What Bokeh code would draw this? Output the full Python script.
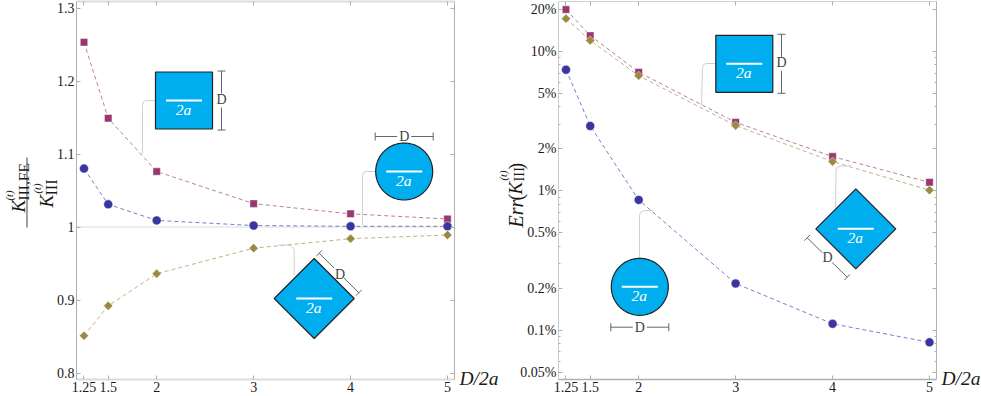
from bokeh.embed import file_html
from bokeh.resources import INLINE
from bokeh.plotting import figure
from bokeh.layouts import row
from bokeh.models import Range1d, FixedTicker, LinearAxis, LogAxis, Label
import numpy as np

x_vals = [1.25, 1.5, 2, 3, 4, 5]
x_labels = {1.25: "1.25", 1.5: "1.5", 2: "2", 3: "3", 4: "4", 5: "5"}

ratio_square = [1.253, 1.149, 1.076, 1.032, 1.018, 1.011]
ratio_circle = [1.080, 1.031, 1.009, 1.002, 1.001, 1.001]
ratio_diamond = [0.851, 0.892, 0.936, 0.971, 0.984, 0.989]

err_square = [20.0, 13.0, 7.1, 3.1, 1.76, 1.15]
err_circle = [7.4, 2.92, 0.86, 0.216, 0.111, 0.0817]
err_diamond = [17.2, 12.0, 6.7, 2.94, 1.62, 1.01]

ratio_ticks = [0.8, 0.9, 1.0, 1.1, 1.2, 1.3]
ratio_labels = {0.8: "0.8", 0.9: "0.9", 1.0: "1", 1.1: "1.1", 1.2: "1.2", 1.3: "1.3"}
err_ticks = [0.05, 0.1, 0.2, 0.5, 1, 2, 5, 10, 20]
err_labels = {0.05: "0.05%", 0.1: "0.1%", 0.2: "0.2%", 0.5: "0.5%", 1: "1%", 2: "2%", 5: "5%", 10: "10%", 20: "20%"}
err_minor = [0.06, 0.07, 0.08, 0.09, 0.3, 0.4, 0.6, 0.7, 0.8, 0.9, 3, 4, 6, 7, 8, 9]

MAG, BLU, OLI = "#98386f", "#3b369f", "#9b8a3f"
CYAN = "#00aeef"
SERIF = "'Liberation Serif', 'Times New Roman', serif"
AX = "#b0b0b0"
W, H = 981, 396
FT, FB = 1, 379


def panel(w, fl, fr, ylo, yhi, log):
    p = figure(frame_width=fr - fl, frame_height=FB - FT, output_backend="svg", toolbar_location=None,
               x_range=Range1d(1.25 - 7.5 / 97, 5 + 7 / 97),
               y_range=Range1d(ylo, yhi), y_axis_type="log" if log else "linear",
               x_axis_location=None, y_axis_location=None,
               min_border_left=fl, min_border_right=w - fr, min_border_top=FT, min_border_bottom=H - FB,
               outline_line_color=None, background_fill_color="white", border_fill_color="white")
    p.grid.visible = False
    return p


def style_axis(a, labels=True):
    a.axis_line_color = AX
    a.axis_line_width = 1
    a.major_tick_line_color = AX
    a.minor_tick_line_color = AX
    a.major_tick_in = 4
    a.major_tick_out = 0
    a.minor_tick_in = 2
    a.minor_tick_out = 0
    if labels:
        a.major_label_text_font = SERIF
        a.major_label_text_font_size = "14px"
        a.major_label_text_color = "#1a1a1a"
        a.major_label_standoff = 2
    else:
        a.major_label_text_font_size = "0px"
        a.major_label_text_color = None
        a.major_label_standoff = 0


def axes(p, yticks, ylabels, yminor, log):
    Y = LogAxis if log else LinearAxis
    for side in ("below", "above"):
        a = LinearAxis(ticker=FixedTicker(ticks=x_vals))
        a.major_label_overrides = {k: v for k, v in x_labels.items()}
        style_axis(a, side == "below")
        if not log:
            a.axis_line_color = "#dcdcdc"
            a.axis_line_width = 2
        elif side == "below":
            a.axis_line_width = 1.5
        else:
            a.axis_line_color = "#d0d0d0"
        p.add_layout(a, side)
    for side in ("left", "right"):
        a = Y(ticker=FixedTicker(ticks=yticks, minor_ticks=yminor))
        a.major_label_overrides = {k: v for k, v in ylabels.items()}
        style_axis(a, side == "left")
        if log and side == "left":
            a.axis_line_color = "#cccccc"
        p.add_layout(a, side)


def series(p, ys, color, marker):
    p.line(x_vals, ys, line_color=color, line_alpha=0.65, line_width=1, line_dash="4 3")
    kw = dict(line_color="white", line_alpha=0.6, line_width=0.8, fill_color=color)
    if marker == "circle":
        p.scatter(x_vals, ys, marker="circle", size=9, **kw)
    elif marker == "square":
        p.scatter(x_vals, ys, marker="square", size=7.5, **kw)
    else:
        p.scatter(x_vals, ys, marker="square", size=6.5, angle=np.pi / 4, **kw)


# overlay: a transparent figure over the whole page, in page pixels, for the sketches and outside labels
ov = figure(width=W, height=H, output_backend="svg", toolbar_location=None,
            x_range=Range1d(0, W), y_range=Range1d(H, 0), x_axis_location=None, y_axis_location=None,
            min_border=0, outline_line_color=None, background_fill_color=None, border_fill_color=None,
            styles={"position": "absolute", "left": "0px", "top": "0px", "z-index": "5"})
ov.grid.visible = False


def txt(x, y, s, size, italic=False, color="#1a1a1a", angle=0.0, align="center", baseline="middle"):
    ov.add_layout(Label(x=x, y=y, text=s, text_font=SERIF, text_font_size=f"{size}px", text_color=color,
                        text_font_style="italic" if italic else "normal", angle=angle,
                        text_align=align, text_baseline=baseline))


def crack(cx, cy):
    ov.line([cx - 18, cx + 18], [cy, cy], line_color="white", line_width=2)
    txt(cx - 0.5, cy + 9, "2a", 15.5, italic=True, color="white")


def connector(xs, ys):
    ov.line(xs, ys, line_color="#cfcfcf", line_width=1)


def dim(x0, y0, x1, y1, lx, ly):
    dx, dy = x1 - x0, y1 - y0
    L = float(np.hypot(dx, dy))
    ux, uy = dx / L, dy / L
    nx, ny = -uy * 4, ux * 4
    mid = L / 2
    g = 7
    kw = dict(line_color="#666666", line_width=1)
    ov.line([x0, x0 + ux * (mid - g)], [y0, y0 + uy * (mid - g)], **kw)
    ov.line([x0 + ux * (mid + g), x1], [y0 + uy * (mid + g), y1], **kw)
    for x, y in ((x0, y0), (x1, y1)):
        ov.line([x - nx, x + nx], [y - ny, y + ny], **kw)
    txt(lx, ly, "D", 14, color="#444444")


def square_inset(cx, cy, dx):
    h = 28.5
    ov.patch([cx - h, cx + h, cx + h, cx - h], [cy - h, cy - h, cy + h, cy + h], fill_color=CYAN,
             line_color="#222222", line_width=1.2)
    crack(cx, cy)
    dim(dx, cy - h - 1, dx, cy + h + 1, dx, cy - 1)


def circle_inset(cx, cy, dy):
    t = np.linspace(0, 2 * np.pi, 97)
    r = 28.5
    ov.patch(cx + r * np.cos(t), cy + r * np.sin(t), fill_color=CYAN, line_color="#222222", line_width=1.2)
    crack(cx, cy)
    dim(cx - 29, dy, cx + 29, dy, cx, dy)


def diamond_inset(cx, cy, d):
    h = 40
    ov.patch([cx - h, cx, cx + h, cx], [cy, cy - h, cy, cy + h], fill_color=CYAN, line_color="#222222",
             line_width=1.2)
    crack(cx, cy)
    dim(*d)


W1, W2 = 490, 491
L0, R0 = 76, 454
y_per = 730.0
p1 = panel(W1, L0, R0, 1.0 - (FB - 226.5) / y_per, 1.0 + (226.5 - FT) / y_per, False)
axes(p1, ratio_ticks, ratio_labels, [], False)
p1.line([x_vals[0] - 1, x_vals[-1] + 1], [1, 1], line_color="#dcdcdc", line_width=1)
series(p1, ratio_square, MAG, "square")
series(p1, ratio_circle, BLU, "circle")
series(p1, ratio_diamond, OLI, "diamond")

connector([155, 146, 143, 142, 142], [100, 100, 101, 104, 153])
connector([375, 366, 363, 362, 362], [171, 171, 172, 175, 225])
connector([278, 287, 291, 293.7, 293.7], [244.5, 244.5, 245.5, 249, 275])
square_inset(183.5, 100, 221)
circle_inset(403.7, 171, 136)
diamond_inset(313.7, 298, (318.7, 252.7, 358.3, 292.3, 339.5, 273.5))
txt(459, 378, "D/2a", 19.5, italic=True, align="left")

ROT = np.pi / 2
ov.line([26.5, 26.5], [157, 227], line_color="#777777", line_width=1.4)
BL = dict(angle=ROT, align="left", baseline="alphabetic")
txt(18, 212, "K", 19, italic=True, **BL)
txt(23, 200, "III,FE", 15.5, **BL)
txt(9, 200, "(t)", 10.5, italic=True, **BL)
txt(46, 207, "K", 19, italic=True, **BL)
txt(51, 195, "III", 16, **BL)
txt(37, 193, "(t)", 10.5, italic=True, **BL)

L1, R1 = 68, 446
dec = 139.3
yhi = 10 ** (1 + (51 - FT) / dec)
ylo = 10 ** (1 - (FB - 51) / dec)
p2 = panel(W2, L1, R1, ylo, yhi, True)
axes(p2, err_ticks, err_labels, err_minor, True)
series(p2, err_square, MAG, "square")
series(p2, err_diamond, OLI, "diamond")
series(p2, err_circle, BLU, "circle")

connector([715.3, 706, 703, 702, 701], [63, 63, 64, 67, 105])
connector([639, 639, 640, 644, 653], [258, 215, 212, 210, 210])
connector([835, 835.5, 836.5, 840, 851], [207, 170, 167, 165.5, 165.5])
square_inset(743.8, 63.3, 781)
circle_inset(639.3, 286.3, 326.7)
diamond_inset(855.3, 228.3, (806.7, 237.3, 846.7, 276.7, 827, 257))
txt(941, 378, "D/2a", 19.5, italic=True, align="left")
txt(515, 227, "Err", 20, italic=True, **BL)
txt(515, 200, "(", 20, **BL)
txt(515, 194, "K", 19, italic=True, **BL)
txt(518, 181, "III", 14.5, **BL)
txt(503, 180, "(t)", 10.5, italic=True, **BL)
txt(515, 169, ")", 20, **BL)

layout = row(p1, p2, spacing=0)
open("out.html", "w").write(file_html([layout, ov], INLINE))
